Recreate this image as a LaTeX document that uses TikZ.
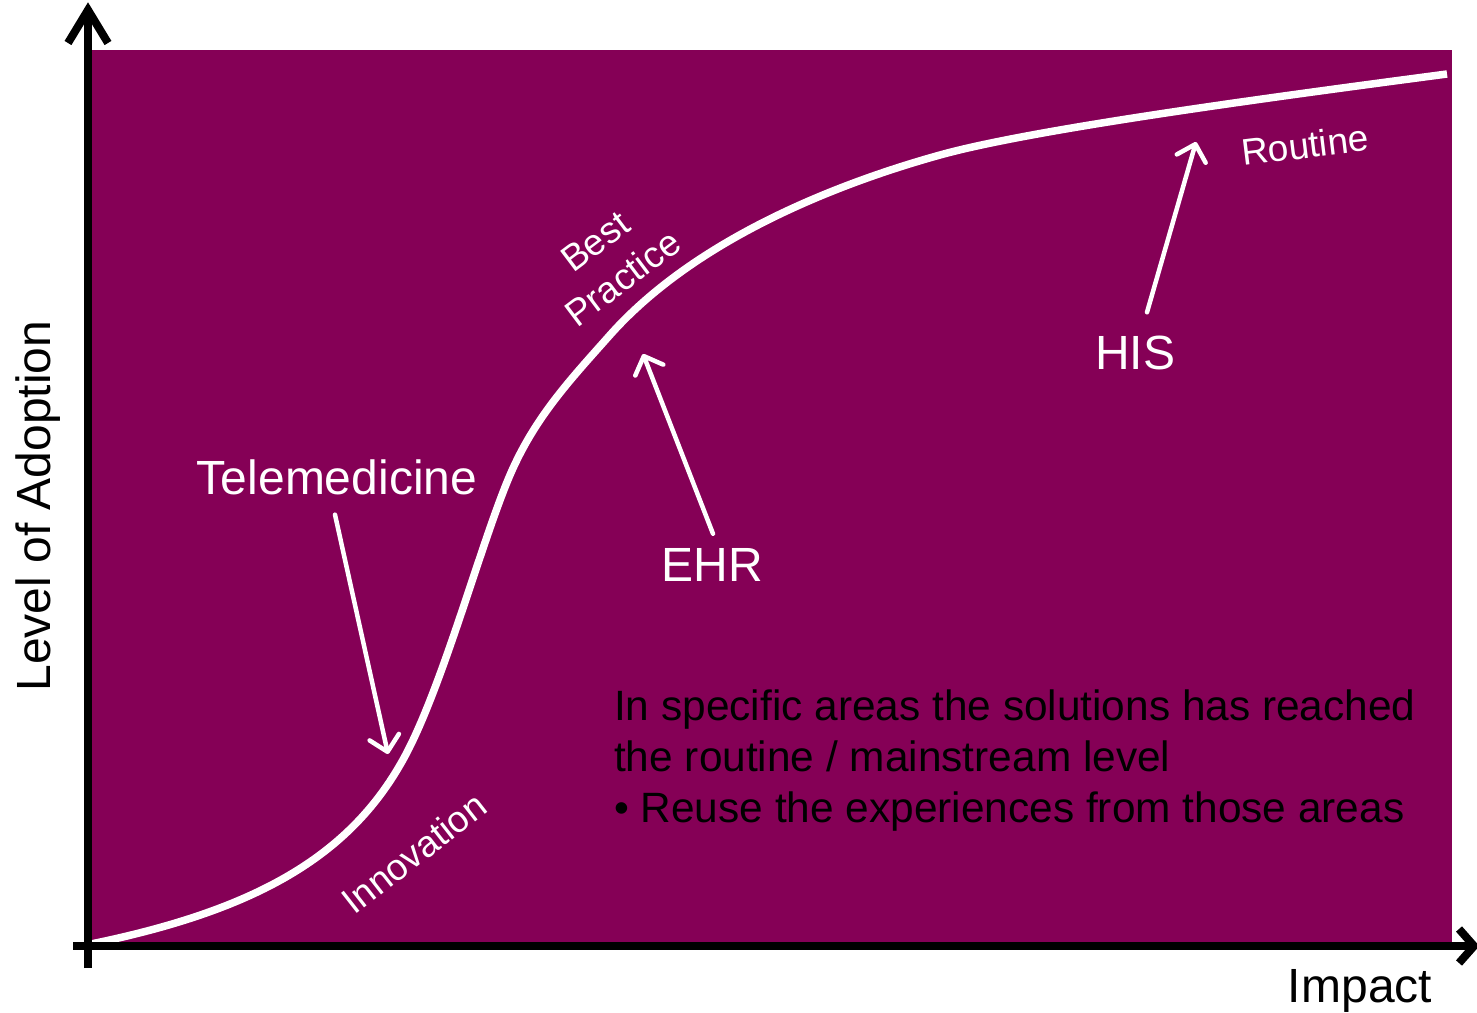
\documentclass[tikz,border=0pt]{standalone}
\usepackage{fontspec}
\setmainfont{Liberation Sans}
\usetikzlibrary{arrows.meta}
\definecolor{plum}{RGB}{133,0,86}
\tikzset{
  axisline/.style={line width=8pt, black},
  whitearrow/.style={line width=4.5pt, white, line cap=round,
     -{Straight Barb[length=15pt,width=30pt,line cap=round,line join=round]}},
  lbl/.style={text=white, inner sep=0pt, font=\fontsize{48}{56}\selectfont},
  small/.style={text=white, inner sep=0pt, font=\fontsize{37}{46}\selectfont},
  body/.style={text=black, inner sep=0pt, anchor=base west, font=\fontsize{42.4}{50}\selectfont},
}
\begin{document}
\begin{tikzpicture}[x=1pt,y=-1pt]
\useasboundingbox (0,0) rectangle (1477,1012);
% background panel
\fill[plum] (88,50) rectangle (1452,946);
% curve
\draw[white, line width=7.5pt]
  (86,945) .. controls (250,912) and (345,860) .. (400,765)
           .. controls (440,697) and (480,545) .. (510,475)
           .. controls (535,417) and (570,380) .. (610,335)
           .. controls (700,234) and (850,180) .. (940,155)
           .. controls (1030,130) and (1250,100) .. (1447,74);
% axes
\coordinate (o) at (88,968);
\coordinate (ytop) at (88,10);
\coordinate (xl) at (73,946);
\coordinate (xr) at (1474,946);
\draw[axisline] (o) -- (ytop);
\draw[axisline, line join=miter] (68,43) -- (ytop) -- (108,43);
\draw[axisline] (xl) -- (xr);
\draw[axisline, line join=miter] (1459,929) -- (xr) -- (1459,963);
% labels
\node[inner sep=0pt, rotate=90, font=\fontsize{48}{56}\selectfont] (yl) at (38,506) {Level of Adoption};
\node[inner sep=0pt, anchor=base, font=\fontsize{48}{56}\selectfont] (xlab) at (1360,1002) {Impact};
\node[lbl, anchor=base] (tele) at (337,494) {Telemedicine};
\node[lbl, anchor=base] (ehr) at (712,581) {EHR};
\node[lbl, anchor=base] (his) at (1135,369) {HIS};
\node[small, rotate=7] (rout) at (1305,145) {Routine};
\node[small, rotate=37, align=center] (bp) at (609,260) {Best\\Practice};
\node[small, rotate=38] (inno) at (414,853) {Innovation};
% arrows
\coordinate (teletip) at (388,754);
\coordinate (ehrtip) at (643,354);
\coordinate (histip) at (1196,142);
\draw[whitearrow] (tele.south) ++(-2,20) -- (teletip);
\draw[whitearrow] (ehr.north) ++(1,-14) -- (ehrtip);
\draw[whitearrow] (his.north) ++(12,-23) -- (histip);
% body text
\node[body] (t1) at (614,720) {In specific areas the solutions has reached};
\node[body] (t2) at (614,771) {the routine / mainstream level};
\node[body] (t3) at (614,822) {\textbullet\ Reuse the experiences from those areas};
\end{tikzpicture}
\end{document}
